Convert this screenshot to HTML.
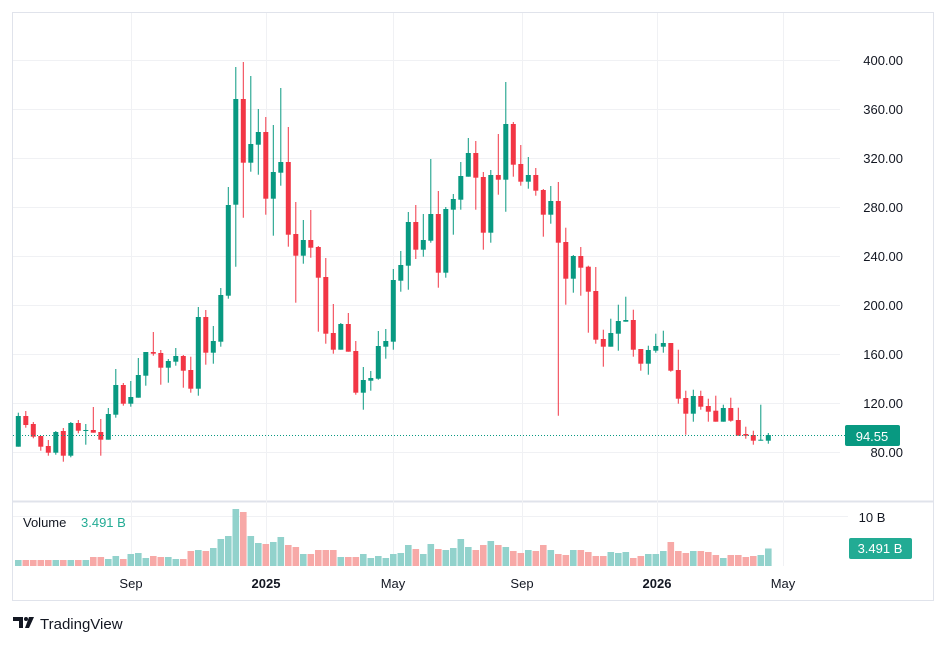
<!DOCTYPE html>
<html><head><meta charset="utf-8">
<style>
html,body{margin:0;padding:0;background:#fff;}
body{width:947px;height:645px;overflow:hidden;position:relative;font-family:"Liberation Sans",sans-serif;}
svg{position:absolute;left:0;top:0;}
</style></head>
<body>
<svg id="s" width="947" height="645" xmlns="http://www.w3.org/2000/svg"></svg>
<script>
var A=[ // zoom1: y=50+z/3
['G',1098,1190,1088,1190],['R',1098,1125,1083,1133],['R',1122,1160,1116,1165],['R',1158,1190,1158,1202],['R',1188,1208,1170,1217],
['G',1146,1208,1143,1214],['R',1143,1217,1134,1235],['G',1119,1217,1116,1222],['R',1119,1142,1110,1150],['G',1140,1143,1122,1184],
['R',1140,1148,1071,1148],['R',1146,1169,1107,1217],['G',1092,1169,1074,1169],['G',1005,1094,957,1103],['R',1005,1061,999,1067],
['G',1041,1061,993,1070],['G',975,1043,924,1043],['G',906,977,906,1007],['R',906,911,846,917],['R',909,953,900,1004],
['G',933,953,927,998],['G',918,935,894,947],['R',918,962,915,1013],['R',960,1016,920,1028],['G',801,1016,771,1037],
['R',801,908,780,944],['G',873,908,828,941],['G',735,875,714,890],['G',465,737,411,746],['G',147,464,51,650],
['R',147,338,36,503],['G',282,338,78,365],['G',246,284,177,374],['R',246,446,201,494],['G',366,446,225,557],
['G',336,368,114,407],['R',336,554,231,590],['R',552,617,456,758],['G',570,617,510,641],['R',570,593,480,623],
['R',591,683,588,845],['R',681,851,624,881],['R',849,899,762,911],['G',822,899,819,899],['R',822,905,789,905],
['R',903,1028,873,1034],['G',990,1028,951,1079],['G',984,992,963,1022],['G',888,986,843,989],['G',873,890,837,926],
['G',690,875,657,899],['G',645,692,603,725],['G',516,647,486,719]];
var B=[ // zoom2: y=70+z/3
['R',456,539,405,567],['G',510,539,432,560],['G',432,512,267,518],['R',432,608,363,653],['G',417,608,411,623],
['G',387,419,372,494],['G',318,389,276,419],['G',249,320,204,320],['R',249,323,213,419],['R',321,488,306,539],
['G',315,488,300,518],['R',315,329,192,374],['G',162,329,36,425],['R',162,284,156,320],['R',282,335,225,347],
['G',315,335,261,356],['R',315,362,294,377],['R',360,434,357,500],['G',393,434,348,461],['R',393,518,336,1037],
['R',516,626,473,704],['G',558,626,555,668],['R',558,593,531,677],['R',590,665,587,788],['R',663,809,591,821],
['R',807,830,779,890],['G',789,830,746,830],['G',753,791,704,842],['G',750,755,680,755],['R',750,839,719,860],
['R',837,881,837,902],['G',840,881,827,914],['G',828,842,791,848],['G',819,830,782,848],['R',819,902,819,905],
['R',900,986,839,1001],['R',984,1031,962,1094],['G',978,1031,959,1055],['R',978,1010,962,1019],['R',1008,1025,986,1055],
['R',1022,1055,977,1055],['G',1014,1055,1004,1055],['R',1014,1052,983,1055],['R',1050,1097,1013,1097],['R',1092,1097,1070,1106],
['R',1095,1112,1082,1124],['G',1109,1112,1004,1112],['G',1095,1112,1089,1121]];
var C=[];A.forEach(function(a){C.push([a[0],50+a[1]/3,50+a[2]/3,50+a[3]/3,50+a[4]/3]);});
B.forEach(function(a){C.push([a[0],70+a[1]/3,70+a[2]/3,70+a[3]/3,70+a[4]/3]);});
var V=[6,6,6,6,6,6,6,6,6,6,9,9,7,10,7,12,13,8,10,9,9,7,7,15,16,15,18,27,30,57,54,30,23,22,24,29,21,19,12,12,16,16,16,9,9,9,12,8,10,8,12,13,21,17,12,22,17,16,18,27,19,16,21,25,21,19,15,13,16,15,21,16,12,11,16,16,14,10,10,14,13,14,8,10,12,12,15,24,15,13,15,15,14,11,8,11,11,9,10,11,17.5];
var s='';
// frame
s+='<rect x="12.5" y="12.5" width="921" height="588" fill="none" stroke="#e0e3eb"/>';
s+='<line x1="12" y1="501.5" x2="934" y2="501.5" stroke="#e0e3eb" stroke-width="2"/>';
// grid
[131,266,393,522,657,783].forEach(function(x){s+='<line x1="'+(x+.5)+'" y1="13" x2="'+(x+.5)+'" y2="566" stroke="#f0f1f4"/>';});
for(var k=0;k<9;k++){var y=60+k*49;s+='<line x1="13" y1="'+(y+.5)+'" x2="840" y2="'+(y+.5)+'" stroke="#f0f1f4"/>';
s+='<text x="903" y="'+(y+5)+'" font-size="13" fill="#131722" text-anchor="end">'+(400-k*40).toFixed(2)+'</text>';}
s+='<line x1="13" y1="516.5" x2="848" y2="516.5" stroke="#f0f1f4"/>';
// volume
C.forEach(function(c,i){var x=18.3+i*7.5;var h=V[i]||10;s+='<rect x="'+(x-3.3).toFixed(1)+'" y="'+(566-h)+'" width="6.6" height="'+h+'" fill="'+(c[0]=='G'?'#92d2cc':'#f7a9a7')+'"/>';});
// candles
C.forEach(function(c,i){var x=18.3+i*7.5;var col=c[0]=='G'?'#089981':'#f23645';
s+='<line x1="'+x.toFixed(1)+'" y1="'+c[3].toFixed(1)+'" x2="'+x.toFixed(1)+'" y2="'+c[4].toFixed(1)+'" stroke="'+col+'" stroke-width="1"/>';
var h=Math.max(1,c[2]-c[1]);s+='<rect x="'+(x-2.5).toFixed(1)+'" y="'+c[1].toFixed(1)+'" width="5" height="'+h.toFixed(1)+'" fill="'+col+'"/>';});
// last price line
s+='<line x1="13" y1="435.5" x2="845" y2="435.5" stroke="#089981" stroke-dasharray="1,2"/>';
s+='<rect x="845" y="425" width="55" height="21" rx="2" fill="#089981"/><text x="872" y="441" font-size="13" fill="#fff" text-anchor="middle">94.55</text>';
s+='<text x="872" y="522" font-size="13" fill="#131722" text-anchor="middle">10 B</text>';
s+='<rect x="849" y="538" width="63" height="21" rx="2" fill="#22ab94"/><text x="880" y="553" font-size="13" fill="#fff" text-anchor="middle">3.491 B</text>';
s+='<text x="23" y="527" font-size="13" fill="#131722">Volume</text><text x="81" y="527" font-size="13" fill="#22ab94">3.491 B</text>';
// time labels
[[131,'Sep',0],[266,'2025',1],[393,'May',0],[522,'Sep',0],[657,'2026',1],[783,'May',0]].forEach(function(t){
s+='<text x="'+t[0]+'" y="588" font-size="13" fill="#131722" text-anchor="middle"'+(t[2]?' font-weight="bold"':'')+'>'+t[1]+'</text>';});
// logo
s+='<path d="M13 617h10v11h-4v-7h-6z" fill="#131722"/><circle cx="26" cy="619" r="2" fill="#131722"/><path d="M29 617h5l-5 11h-4z" fill="#131722"/>';
s+='<text x="40" y="629" font-size="15" fill="#131722">TradingView</text>';
document.getElementById('s').innerHTML=s;
</script>
</body></html>
